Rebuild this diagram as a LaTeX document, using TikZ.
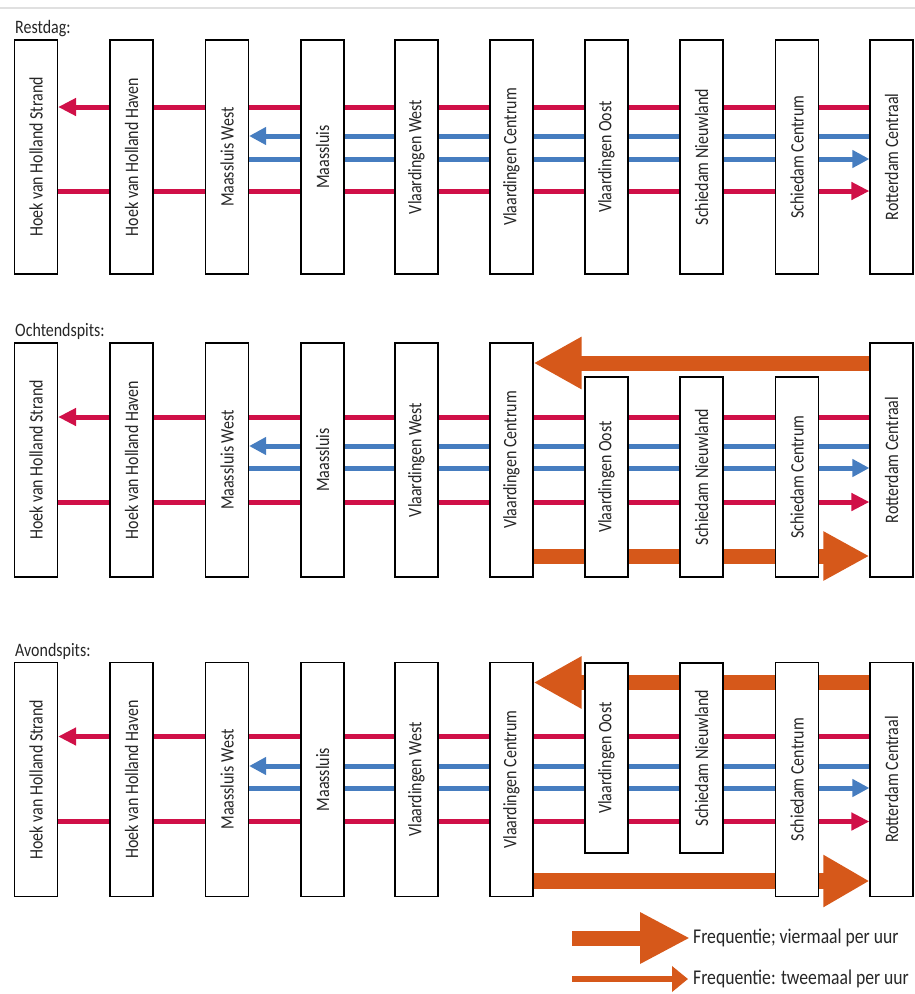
\documentclass[tikz,border=0pt]{standalone}
\usepackage{fontspec}
\setmainfont[FakeStretch=0.84]{Carlito}
\usetikzlibrary{arrows.meta,backgrounds}
\definecolor{lijnrood}{RGB}{208,16,72}
\definecolor{lijnblauw}{RGB}{70,125,192}
\definecolor{lijnoranje}{RGB}{214,88,26}
\newcommand{\stn}[1]{\rotatebox{90}{#1}}

\begin{document}
\begin{tikzpicture}[x=1pt,y=-1pt]
\tikzstyle{every node}=[font=\fontsize{19}{19}\selectfont, text=black!85]
\tikzstyle{station}=[draw, line width=1.2pt, fill=white, inner sep=0pt, minimum width=43pt, minimum height=234pt]
\tikzstyle{kop}=[anchor=base west, inner sep=0pt]
\tikzstyle{uitleg}=[anchor=west, inner sep=0pt, font=\fontsize{21}{21}\selectfont]
\tikzstyle{rood}=[lijnrood, line width=5pt, -{Triangle[length=18pt,width=17pt]}]
\tikzstyle{blauw}=[lijnblauw, line width=5pt, -{Triangle[length=17pt,width=17pt]}]
\tikzstyle{dik}=[lijnoranje, line width=15pt, -{Triangle[length=48pt,width=49pt]}]
\useasboundingbox (0,0) rectangle (915,994);
\draw[black!12, line width=1.5pt] (0,8) -- (915,8);

\node[kop] (restdag) at (15,33) {Restdag:};
\node[station] (rd1) at (36,157) {\stn{Hoek van Holland Strand}};
\node[station] (rd2) at (131.5,157) {\stn{Hoek van Holland Haven}};
\node[station] (rd3) at (227,157) {\stn{Maassluis West}};
\node[station] (rd4) at (322.5,157) {\stn{Maassluis}};
\node[station] (rd5) at (416.5,157) {\stn{Vlaardingen West}};
\node[station] (rd6) at (511.5,157) {\stn{Vlaardingen Centrum}};
\node[station] (rd7) at (606.5,157) {\stn{Vlaardingen Oost}};
\node[station] (rd8) at (701.5,157) {\stn{Schiedam Nieuwland}};
\node[station] (rd9) at (797,157) {\stn{Schiedam Centrum}};
\node[station] (rd10) at (891.5,157) {\stn{Rotterdam Centraal}};

\node[kop] (ochtend) at (15,336) {Ochtendspits:};
\node[station] (os1) at (36,460) {\stn{Hoek van Holland Strand}};
\node[station] (os2) at (131.5,460) {\stn{Hoek van Holland Haven}};
\node[station] (os3) at (227,460) {\stn{Maassluis West}};
\node[station] (os4) at (322.5,460) {\stn{Maassluis}};
\node[station] (os5) at (416.5,460) {\stn{Vlaardingen West}};
\node[station] (os6) at (511.5,460) {\stn{Vlaardingen Centrum}};
\node[station, minimum height=200pt] (os7) at (606.5,477) {\stn{Vlaardingen Oost}};
\node[station, minimum height=200pt] (os8) at (701.5,477) {\stn{Schiedam Nieuwland}};
\node[station, minimum height=200pt] (os9) at (797,477) {\stn{Schiedam Centrum}};
\node[station] (os10) at (891.5,460) {\stn{Rotterdam Centraal}};

\node[kop] (avond) at (15,656) {Avondspits:};
\node[station] (as1) at (36,779.5) {\stn{Hoek van Holland Strand}};
\node[station] (as2) at (131.5,779.5) {\stn{Hoek van Holland Haven}};
\node[station] (as3) at (227,779.5) {\stn{Maassluis West}};
\node[station] (as4) at (322.5,779.5) {\stn{Maassluis}};
\node[station] (as5) at (416.5,779.5) {\stn{Vlaardingen West}};
\node[station] (as6) at (511.5,779.5) {\stn{Vlaardingen Centrum}};
\node[station, minimum height=190pt] (as7) at (606.5,758) {\stn{Vlaardingen Oost}};
\node[station, minimum height=190pt] (as8) at (701.5,758) {\stn{Schiedam Nieuwland}};
\node[station] (as9) at (797,779.5) {\stn{Schiedam Centrum}};
\node[station] (as10) at (891.5,779.5) {\stn{Rotterdam Centraal}};

\node[uitleg] (vier) at (693,938) {Frequentie; viermaal per uur};
\node[uitleg] (twee) at (693,979) {Frequentie: tweemaal per uur};
\coordinate (vierbegin) at (572,938);
\coordinate (tweebegin) at (572,979);

\begin{pgfonlayer}{background}
\draw[rood] ([yshift=50pt]rd10.west) -- ([yshift=50pt]rd1.east);
\draw[blauw] ([yshift=21pt]rd10.west) -- ([yshift=21pt]rd3.east);
\draw[blauw] ([yshift=-2pt]rd3.east) -- ([yshift=-2pt]rd10.west);
\draw[rood] ([yshift=-34pt]rd1.east) -- ([yshift=-34pt]rd10.west);

\draw[rood] ([yshift=43pt]os10.west) -- ([yshift=43pt]os1.east);
\draw[blauw] ([yshift=14pt]os10.west) -- ([yshift=14pt]os3.east);
\draw[blauw] ([yshift=-8pt]os3.east) -- ([yshift=-8pt]os10.west);
\draw[rood] ([yshift=-42pt]os1.east) -- ([yshift=-42pt]os10.west);
\draw[dik] ([yshift=97pt]os10.west) -- ([yshift=97pt]os6.east);
\draw[dik, -{Triangle[length=46pt,width=46pt]}] ([yshift=-96pt]os6.east) -- ([yshift=-96pt]os10.west);

\draw[rood] ([yshift=43pt]as10.west) -- ([yshift=43pt]as1.east);
\draw[blauw] ([yshift=13.5pt]as10.west) -- ([yshift=13.5pt]as3.east);
\draw[blauw] ([yshift=-8.5pt]as3.east) -- ([yshift=-8.5pt]as10.west);
\draw[rood] ([yshift=-42pt]as1.east) -- ([yshift=-42pt]as10.west);
\draw[dik] ([yshift=97pt]as10.west) -- ([yshift=97pt]as6.east);
\draw[dik, line width=16pt, -{Triangle[length=46pt,width=49pt]}] ([yshift=-101.5pt]as6.east) -- ([yshift=-101.5pt]as10.west);
\end{pgfonlayer}

\draw[dik, -{Triangle[length=50pt,width=48pt]}] (vierbegin) -- ([xshift=-3pt]vier.west);
\draw[lijnoranje, line width=6pt, -{Triangle[length=16pt,width=25pt]}] (tweebegin) -- ([xshift=-5pt]twee.west);
\end{tikzpicture}
\end{document}
